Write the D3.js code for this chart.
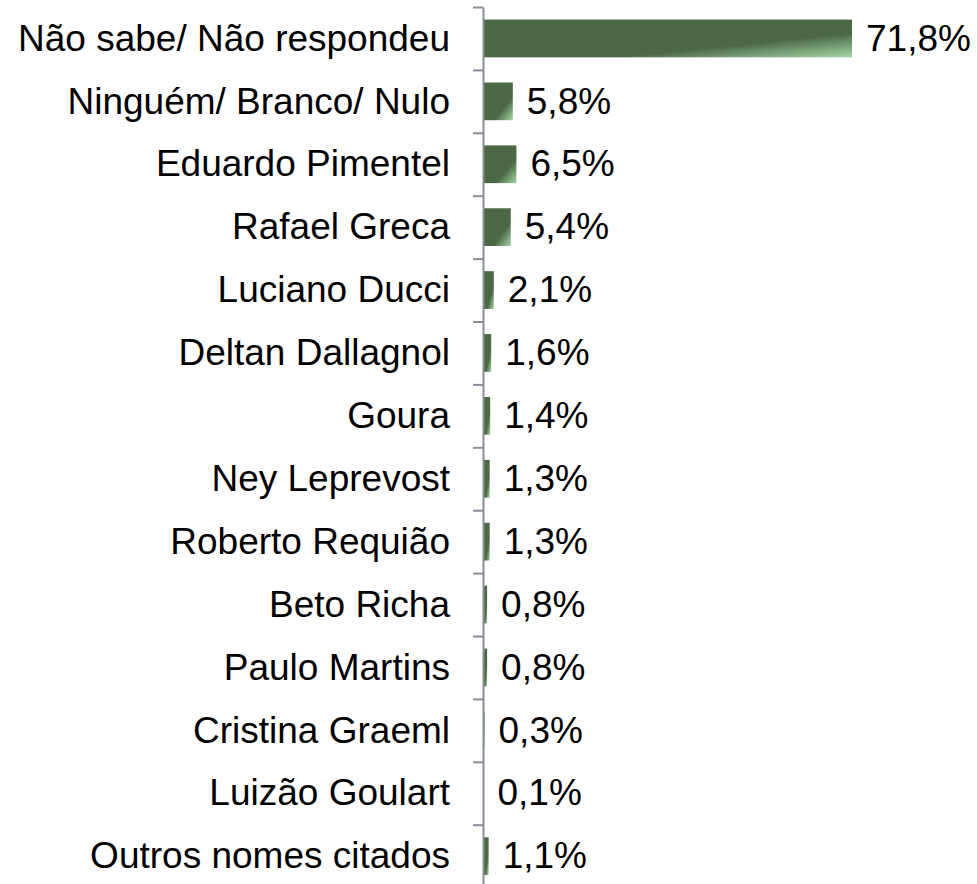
<!DOCTYPE html>
<html>
<head>
<meta charset="utf-8">
<script src="https://cdn.jsdelivr.net/npm/d3@7"></script>
<style>
  body { margin: 0; background: #fff; }
  text { font-family: "Liberation Sans", Arial, sans-serif; }
</style>
</head>
<body>
<div id="chart"></div>
<script>
// Categories and values (in %)
const names = [
    "Não sabe/ Não respondeu", "Ninguém/ Branco/ Nulo", "Eduardo Pimentel",
    "Rafael Greca", "Luciano Ducci", "Deltan Dallagnol", "Goura",
    "Ney Leprevost", "Roberto Requião", "Beto Richa", "Paulo Martins",
    "Cristina Graeml", "Luizão Goulart", "Outros nomes citados"
];
const pct = [71.8, 5.8, 6.5, 5.4, 2.1, 1.6, 1.4, 1.3, 1.3, 0.8, 0.8, 0.3, 0.1, 1.1];

const data = names.map((n, i) => ({ name: n, value: pct[i] }));

const width = 977,
      height = 884,
      margin = ({ top: 7, left: 483 });

const svg = d3.select("#chart")
    .append("svg")
    .attr("width", width)
    .attr("height", height);

// x scale: ~5.13 px per percentage point
const x = d3.scaleLinear()
    .domain([0, 71.8])
    .range([margin.left, 852]);

// y band scale, range runs past the bottom like the original
const y = d3.scaleBand()
    .domain(names)
    .range([margin.top, margin.top + 62.9 * names.length])
    .paddingInner(0.4)
    .paddingOuter(0.2);

// gradient: dark green with light corner at bottom right
const grad = svg.append("defs").append("linearGradient")
    .attr("id", "barGrad")
    .attr("x1", 0).attr("y1", 0)
    .attr("x2", 1).attr("y2", 1);
grad.append("stop").attr("offset", 0).attr("stop-color", "#4a6843");
grad.append("stop").attr("offset", 0.68).attr("stop-color", "#4b6944");
grad.append("stop").attr("offset", 1).attr("stop-color", "#a3d7a6");

// bars
svg.selectAll(".bar")
    .data(data)
    .join("rect")
    .attr("class", "bar")
    .attr("x", x(0))
    .attr("y", d => y(d.name))
    .attr("width", d => x(d.value) - x(0))
    .attr("height", y.bandwidth())
    .attr("fill", "url(#barGrad)");

// axis with tick marks between categories
const bounds = d3.scaleLinear()
    .domain([0, names.length])
    .range(y.range());

const axis = svg.append("g")
    .attr("transform", `translate(${margin.left},0)`)
    .call(d3.axisLeft(bounds)
        .tickValues(d3.range(names.length + 1))
        .tickFormat("")
        .tickSizeInner(10)
        .tickSizeOuter(0));
axis.selectAll("path, line")
    .attr("stroke", "#898e96")
    .attr("stroke-width", 2);

// category labels
svg.selectAll(".cat")
    .data(data)
    .join("text")
    .attr("class", "cat")
    .attr("x", margin.left - 33)
    .attr("y", d => y(d.name) + y.bandwidth() / 2)
    .attr("dy", "0.33em")
    .attr("text-anchor", "end")
    .attr("font-size", 37)
    .attr("fill", "#000")
    .text(d => d.name);

// value labels with comma decimal
const pt = d3.formatLocale({ decimal: ",", thousands: ".", grouping: [3], currency: ["R$", ""] });
const fmt = pt.format(".1f");

svg.selectAll(".val")
    .data(data)
    .join("text")
    .attr("class", "val")
    .attr("x", d => x(d.value) + 14)
    .attr("y", d => y(d.name) + y.bandwidth() / 2)
    .attr("dy", "0.33em")
    .attr("font-size", 37)
    .attr("fill", "#000")
    .text(d => fmt(d.value) + "%");
</script>
</body>
</html>
